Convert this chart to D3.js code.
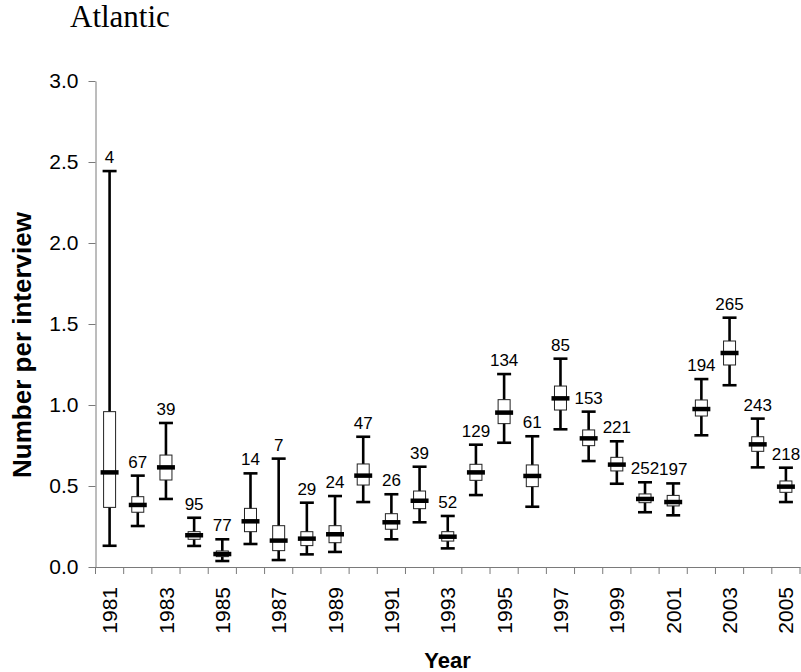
<!DOCTYPE html>
<html>
<head>
<meta charset="utf-8">
<script src="https://cdn.jsdelivr.net/npm/d3@7/dist/d3.min.js"></script>
<style>
  html, body { margin: 0; padding: 0; background: #fff; }
  svg { display: block; }
  text { font-family: "Liberation Sans", Arial, sans-serif; fill: #000; }
</style>
</head>
<body>
<svg id="chart" width="801" height="672"></svg>
<script>
const years = d3.range(1981, 2006);
const whiskerLow  = [0.131,0.253,0.420,0.130,0.037,0.142,0.043,0.078,0.093,0.401,0.171,0.276,0.115,0.444,0.767,0.372,0.850,0.654,0.514,0.338,0.319,0.813,1.122,0.615,0.401];
const boxLow      = [0.368,0.338,0.537,0.171,0.064,0.218,0.101,0.132,0.150,0.506,0.233,0.360,0.160,0.535,0.885,0.496,0.969,0.749,0.593,0.397,0.377,0.932,1.247,0.714,0.461];
const medians     = [0.584,0.383,0.615,0.196,0.080,0.282,0.163,0.175,0.202,0.564,0.276,0.409,0.187,0.584,0.953,0.562,1.041,0.794,0.632,0.420,0.401,0.975,1.321,0.757,0.496];
const boxHigh     = [0.959,0.434,0.691,0.218,0.099,0.362,0.255,0.218,0.255,0.636,0.329,0.469,0.218,0.634,1.033,0.630,1.117,0.846,0.677,0.451,0.442,1.031,1.395,0.804,0.531];
const whiskerHigh = [2.444,0.564,0.889,0.304,0.171,0.578,0.669,0.397,0.438,0.804,0.449,0.619,0.315,0.755,1.191,0.807,1.286,0.959,0.776,0.523,0.516,1.160,1.539,0.916,0.613];
const counts      = [4,67,39,95,77,14,7,29,24,47,26,39,52,129,134,61,85,153,221,252,197,194,265,243,218];
const yTicks = [0, 0.5, 1.0, 1.5, 2.0, 2.5, 3.0];
const yearLabels = years.filter(y => (y - 1981) % 2 === 0);

const svg = d3.select("#chart");
const x = d3.scaleBand().domain(years).range([95.5, 800]).paddingInner(0).paddingOuter(0);
const y = d3.scaleLinear().domain([0, 3]).range([567, 81]);
const axisColor = "#7a7a7a";

const data = years.map((yr, i) => ({
  year: yr, lo: whiskerLow[i], q1: boxLow[i], med: medians[i], q3: boxHigh[i], hi: whiskerHigh[i], n: counts[i]
}));

// Title
svg.append("text").attr("x", 70).attr("y", 27)
  .style("font-family", "'Liberation Serif','Times New Roman',serif")
  .style("font-size", "31px").text("Atlantic");

// Y axis
const yAxis = svg.append("g").attr("transform", "translate(95.5,0)")
  .call(d3.axisLeft(y).tickValues(yTicks).tickFormat(d3.format(".1f")).tickSize(7).tickSizeOuter(0).tickPadding(10));
yAxis.select(".domain").attr("stroke", axisColor);
yAxis.selectAll(".tick line").attr("stroke", axisColor);
yAxis.selectAll(".tick text").style("font-size", "21px").style("font-family", "'Liberation Sans',Arial,sans-serif").attr("fill", "#000");

// X axis labels
const xAxis = svg.append("g").attr("transform", "translate(0,567)")
  .call(d3.axisBottom(x).tickValues(yearLabels).tickSize(0).tickSizeOuter(0));
xAxis.select(".domain").attr("stroke", axisColor);
xAxis.selectAll(".tick text")
  .style("font-size", "21px").style("font-family", "'Liberation Sans',Arial,sans-serif").attr("fill", "#000")
  .attr("transform", "rotate(-90)")
  .attr("text-anchor", "end")
  .attr("x", -20).attr("y", 0).attr("dy", "0.36em");
// X boundary ticks
const bounds = years.map(yr => x(yr)).concat([x.range()[1]]);
svg.append("g").selectAll("line").data(bounds).join("line")
  .attr("x1", d => d).attr("x2", d => d)
  .attr("y1", 567).attr("y2", 574)
  .attr("stroke", axisColor).attr("stroke-width", 1);

// Boxes
const g = svg.append("g");
const cx = d => x(d.year) + x.bandwidth() / 2;
const items = g.selectAll("g.box").data(data).join("g").attr("class", "box");
items.append("line")
  .attr("x1", cx).attr("x2", cx)
  .attr("y1", d => y(d.hi)).attr("y2", d => y(d.lo))
  .attr("stroke", "#000").attr("stroke-width", 2.6);
items.append("line")
  .attr("x1", d => cx(d) - 7).attr("x2", d => cx(d) + 7)
  .attr("y1", d => y(d.hi)).attr("y2", d => y(d.hi))
  .attr("stroke", "#000").attr("stroke-width", 2.6);
items.append("line")
  .attr("x1", d => cx(d) - 7).attr("x2", d => cx(d) + 7)
  .attr("y1", d => y(d.lo)).attr("y2", d => y(d.lo))
  .attr("stroke", "#000").attr("stroke-width", 2.6);
items.append("rect")
  .attr("x", d => cx(d) - 6).attr("width", 12)
  .attr("y", d => y(d.q3)).attr("height", d => y(d.q1) - y(d.q3))
  .attr("fill", "#fff").attr("stroke", "#222").attr("stroke-width", 1);
items.append("line")
  .attr("x1", d => cx(d) - 9).attr("x2", d => cx(d) + 9)
  .attr("y1", d => y(d.med)).attr("y2", d => y(d.med))
  .attr("stroke", "#000").attr("stroke-width", 4.5);
items.append("text")
  .attr("x", cx).attr("y", d => y(d.hi) - 8)
  .attr("text-anchor", "middle")
  .style("font-size", "17px")
  .text(d => d.n);

// Axis titles
svg.append("text").attr("x", 447.5).attr("y", 668)
  .attr("text-anchor", "middle").style("font-size", "22px").style("font-weight", "bold").text("Year");
svg.append("text").attr("transform", "translate(31,345) rotate(-90)")
  .attr("text-anchor", "middle").style("font-size", "26px").style("font-weight", "bold").text("Number per interview");
</script>
</body>
</html>
